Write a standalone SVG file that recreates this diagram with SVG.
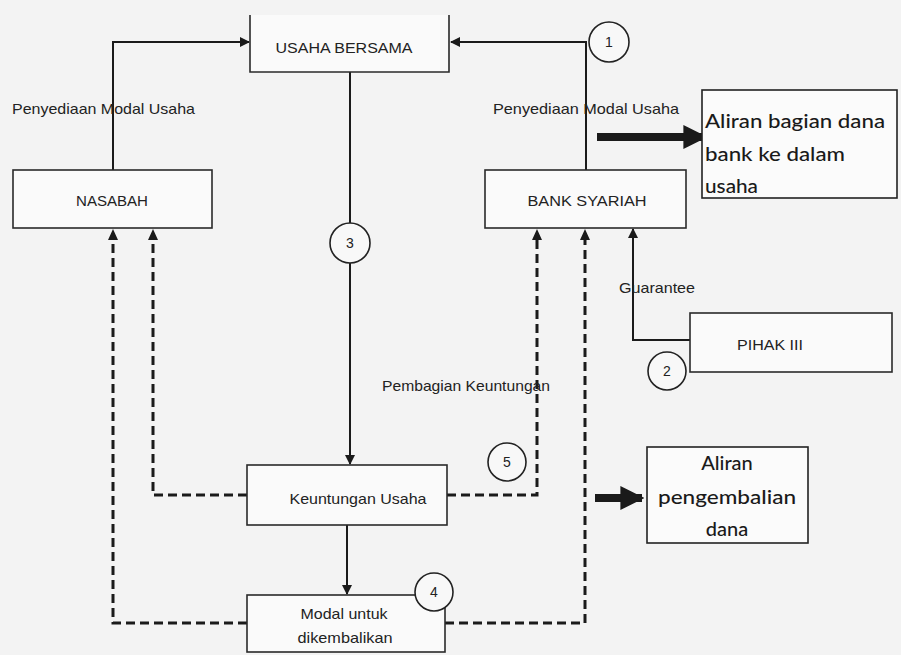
<svg xmlns="http://www.w3.org/2000/svg" width="901" height="655" viewBox="0 0 901 655">
<defs>
<marker id="ah" viewBox="0 0 10 10" refX="9" refY="5" markerWidth="10" markerHeight="10" markerUnits="userSpaceOnUse" orient="auto">
<path d="M0,0 L10,5 L0,10 z" fill="#1a1a1a"/>
</marker>
<marker id="big" viewBox="0 0 10 10" refX="9" refY="5" markerWidth="24" markerHeight="24" markerUnits="userSpaceOnUse" orient="auto">
<path d="M0,0 L10,5 L0,10 z" fill="#1a1a1a"/>
</marker>
<style>
.box{fill:#fafafa;stroke:#2a2a2a;stroke-width:1.6}
.t{font-family:"Liberation Sans",Arial,sans-serif;font-size:15px;fill:#222;text-anchor:middle;dominant-baseline:central}
.tl{font-family:"Liberation Sans",Arial,sans-serif;font-size:15px;fill:#222;dominant-baseline:central}
.n{font-family:"Liberation Sans",Arial,sans-serif;font-size:14px;fill:#222;text-anchor:middle;dominant-baseline:central}
.c{font-family:"Lato","Open Sans",sans-serif;font-size:20px;fill:#1a1a1a;font-weight:500;dominant-baseline:central}
.solid{fill:none;stroke:#1a1a1a;stroke-width:2}
.dash{fill:none;stroke:#1a1a1a;stroke-width:3;stroke-dasharray:9 5}
.circ{fill:#f8f8f8;stroke:#222;stroke-width:1.6}
.thick{fill:none;stroke:#1a1a1a;stroke-width:8}
</style>
</defs>
<rect width="901" height="655" fill="#f3f3f3"/>

<g id="connectors">
<path class="solid" d="M113,170 V42 H249" marker-end="url(#ah)"/>
<path class="solid" d="M586,170 V42 H451" marker-end="url(#ah)"/>
<path class="solid" d="M350,72 V223"/>
<path class="solid" d="M350,263 V464" marker-end="url(#ah)"/>
<path class="solid" d="M347,525 V594" marker-end="url(#ah)"/>
<path class="solid" d="M690,340 H633 V229" marker-end="url(#ah)"/>
<path class="dash" d="M247,623 H113 V238"/>
<path class="dash" d="M247,495 H153 V238"/>
<path class="dash" d="M447,495 H537 V238"/>
<path class="dash" d="M445,623 H585 V238"/>
<path d="M108,240 L113,229 L118,240 z M148,240 L153,229 L158,240 z M532,240 L537,229 L542,240 z M580,240 L585,229 L590,240 z" fill="#1a1a1a"/>
<path class="thick" d="M597,137 H705" marker-end="url(#big)"/>
<path class="thick" d="M595,498 H642" marker-end="url(#big)"/>
</g>

<g id="usaha-bersama">
<path d="M250,15 V72 H449 V15" fill="#fafafa" stroke="#2a2a2a" stroke-width="1.6"/>
<text class="t" x="344" y="47" textLength="137" lengthAdjust="spacingAndGlyphs">USAHA BERSAMA</text>
</g>

<g id="nasabah">
<rect class="box" x="13" y="170" width="199" height="58"/>
<text class="t" x="112" y="200" textLength="72" lengthAdjust="spacingAndGlyphs">NASABAH</text>
</g>

<g id="bank-syariah">
<rect class="box" x="485" y="170" width="201" height="58"/>
<text class="t" x="587" y="200" textLength="119" lengthAdjust="spacingAndGlyphs">BANK SYARIAH</text>
</g>

<g id="pihak-iii">
<rect class="box" x="690" y="313" width="202" height="59"/>
<text class="t" x="770" y="344" textLength="66" lengthAdjust="spacingAndGlyphs">PIHAK III</text>
</g>

<g id="keuntungan-usaha">
<rect class="box" x="247" y="465" width="200" height="60"/>
<text class="t" x="358" y="498" textLength="137" lengthAdjust="spacingAndGlyphs">Keuntungan Usaha</text>
</g>

<g id="modal-untuk-dikembalikan">
<rect class="box" x="247" y="595" width="198" height="57"/>
<text class="t" x="344" y="613" textLength="87" lengthAdjust="spacingAndGlyphs">Modal untuk</text>
<text class="t" x="345" y="637" textLength="95" lengthAdjust="spacingAndGlyphs">dikembalikan</text>
</g>

<g id="aliran-bagian-dana">
<rect x="702" y="90" width="195" height="108" fill="#fbfbfb" stroke="#222" stroke-width="1.6"/>
<text class="c" x="705" y="120" textLength="180" lengthAdjust="spacingAndGlyphs">Aliran bagian dana</text>
<text class="c" x="705" y="153" textLength="140" lengthAdjust="spacingAndGlyphs">bank ke dalam</text>
<text class="c" x="705" y="185" textLength="53" lengthAdjust="spacingAndGlyphs">usaha</text>
</g>

<g id="aliran-pengembalian-dana">
<rect x="647" y="447" width="161" height="96" fill="#fbfbfb" stroke="#222" stroke-width="1.6"/>
<text class="c" x="727" y="462" text-anchor="middle">Aliran</text>
<text class="c" x="727" y="496" text-anchor="middle" textLength="138" lengthAdjust="spacingAndGlyphs">pengembalian</text>
<text class="c" x="727" y="528" text-anchor="middle">dana</text>
</g>

<g id="labels">
<text class="tl" x="12" y="108" textLength="183" lengthAdjust="spacingAndGlyphs">Penyediaan Modal Usaha</text>
<text class="tl" x="493" y="108" textLength="186" lengthAdjust="spacingAndGlyphs">Penyediaan Modal Usaha</text>
<text class="tl" x="619" y="287" textLength="76" lengthAdjust="spacingAndGlyphs">Guarantee</text>
<text class="tl" x="382" y="385" textLength="168" lengthAdjust="spacingAndGlyphs">Pembagian Keuntungan</text>
</g>

<g id="circle-1"><circle class="circ" cx="609" cy="42" r="20"/><text class="n" x="609" y="42">1</text></g>
<g id="circle-2"><circle class="circ" cx="667" cy="371" r="19"/><text class="n" x="667" y="371">2</text></g>
<g id="circle-3"><circle class="circ" cx="350" cy="243" r="20"/><text class="n" x="350" y="243">3</text></g>
<g id="circle-4"><circle class="circ" cx="434" cy="592" r="19"/><text class="n" x="434" y="592">4</text></g>
<g id="circle-5"><circle class="circ" cx="507" cy="462" r="19"/><text class="n" x="507" y="462">5</text></g>
</svg>
